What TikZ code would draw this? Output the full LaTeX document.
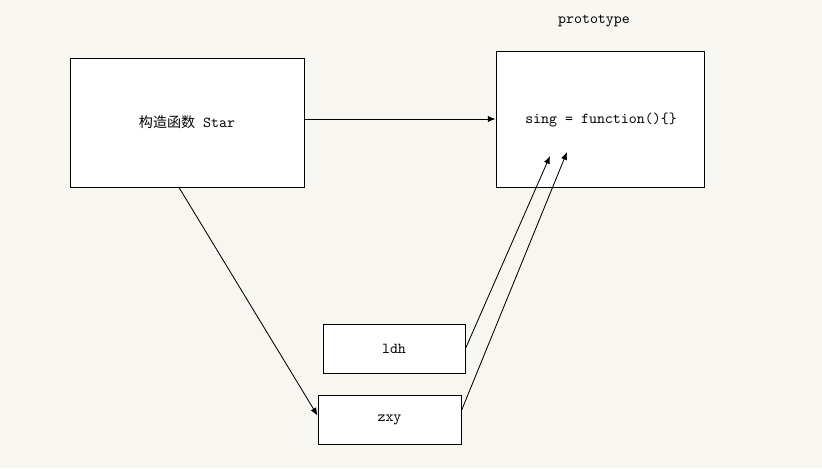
\documentclass[tikz,border=0pt]{standalone}
\usepackage{fontspec}
\newfontfamily\cjk{Noto Sans CJK SC}
\usetikzlibrary{calc,positioning,arrows.meta}
\definecolor{paper}{RGB}{248,246,240}

\begin{document}
\begin{tikzpicture}[x=0.025cm,y=-0.025cm,
  box/.style={draw,fill=white,line width=0.7pt,inner sep=0pt,font=\ttfamily\fontsize{10.8}{12}\selectfont},
  link/.style={-{Latex[length=5.5pt,width=4.5pt]},line width=0.6pt}]
\fill[paper] (0,0) rectangle (822,468);
\useasboundingbox (0,0) rectangle (822,468);
% boxes
\node[box,minimum width=234*0.025cm,minimum height=129*0.025cm] (star) at (187,122.5) {{\cjk\fontsize{10}{12}\selectfont 构造函数} Star};
\node[box,minimum width=208*0.025cm,minimum height=136*0.025cm] (proto) at (600,119) {};
\path (601,120) node[font=\ttfamily\fontsize{10.8}{12}\selectfont] (sing) {sing = function()\{\}};
\path (594,21) node[font=\ttfamily\fontsize{10.8}{12}\selectfont] (ptitle) {prototype};
\node[box,minimum width=142*0.025cm,minimum height=49*0.025cm] (ldh) at (394,348.5) {ldh};
\node[box,minimum width=143*0.025cm,minimum height=49*0.025cm] (zxy) at (389.5,419.5) {zxy};
% arrows
\coordinate (p1) at (550,156);
\coordinate (p2) at (567,152);
\draw[link] (star.east |- proto.west) -- (proto.west);
\draw[link] ([xshift=-8*0.025cm]star.south) -- ([yshift=4*0.025cm]zxy.west);
\draw[link] (ldh.east) -- (p1);
\draw[link] ([yshift=9*0.025cm]zxy.east) -- (p2);
\end{tikzpicture}
\end{document}
